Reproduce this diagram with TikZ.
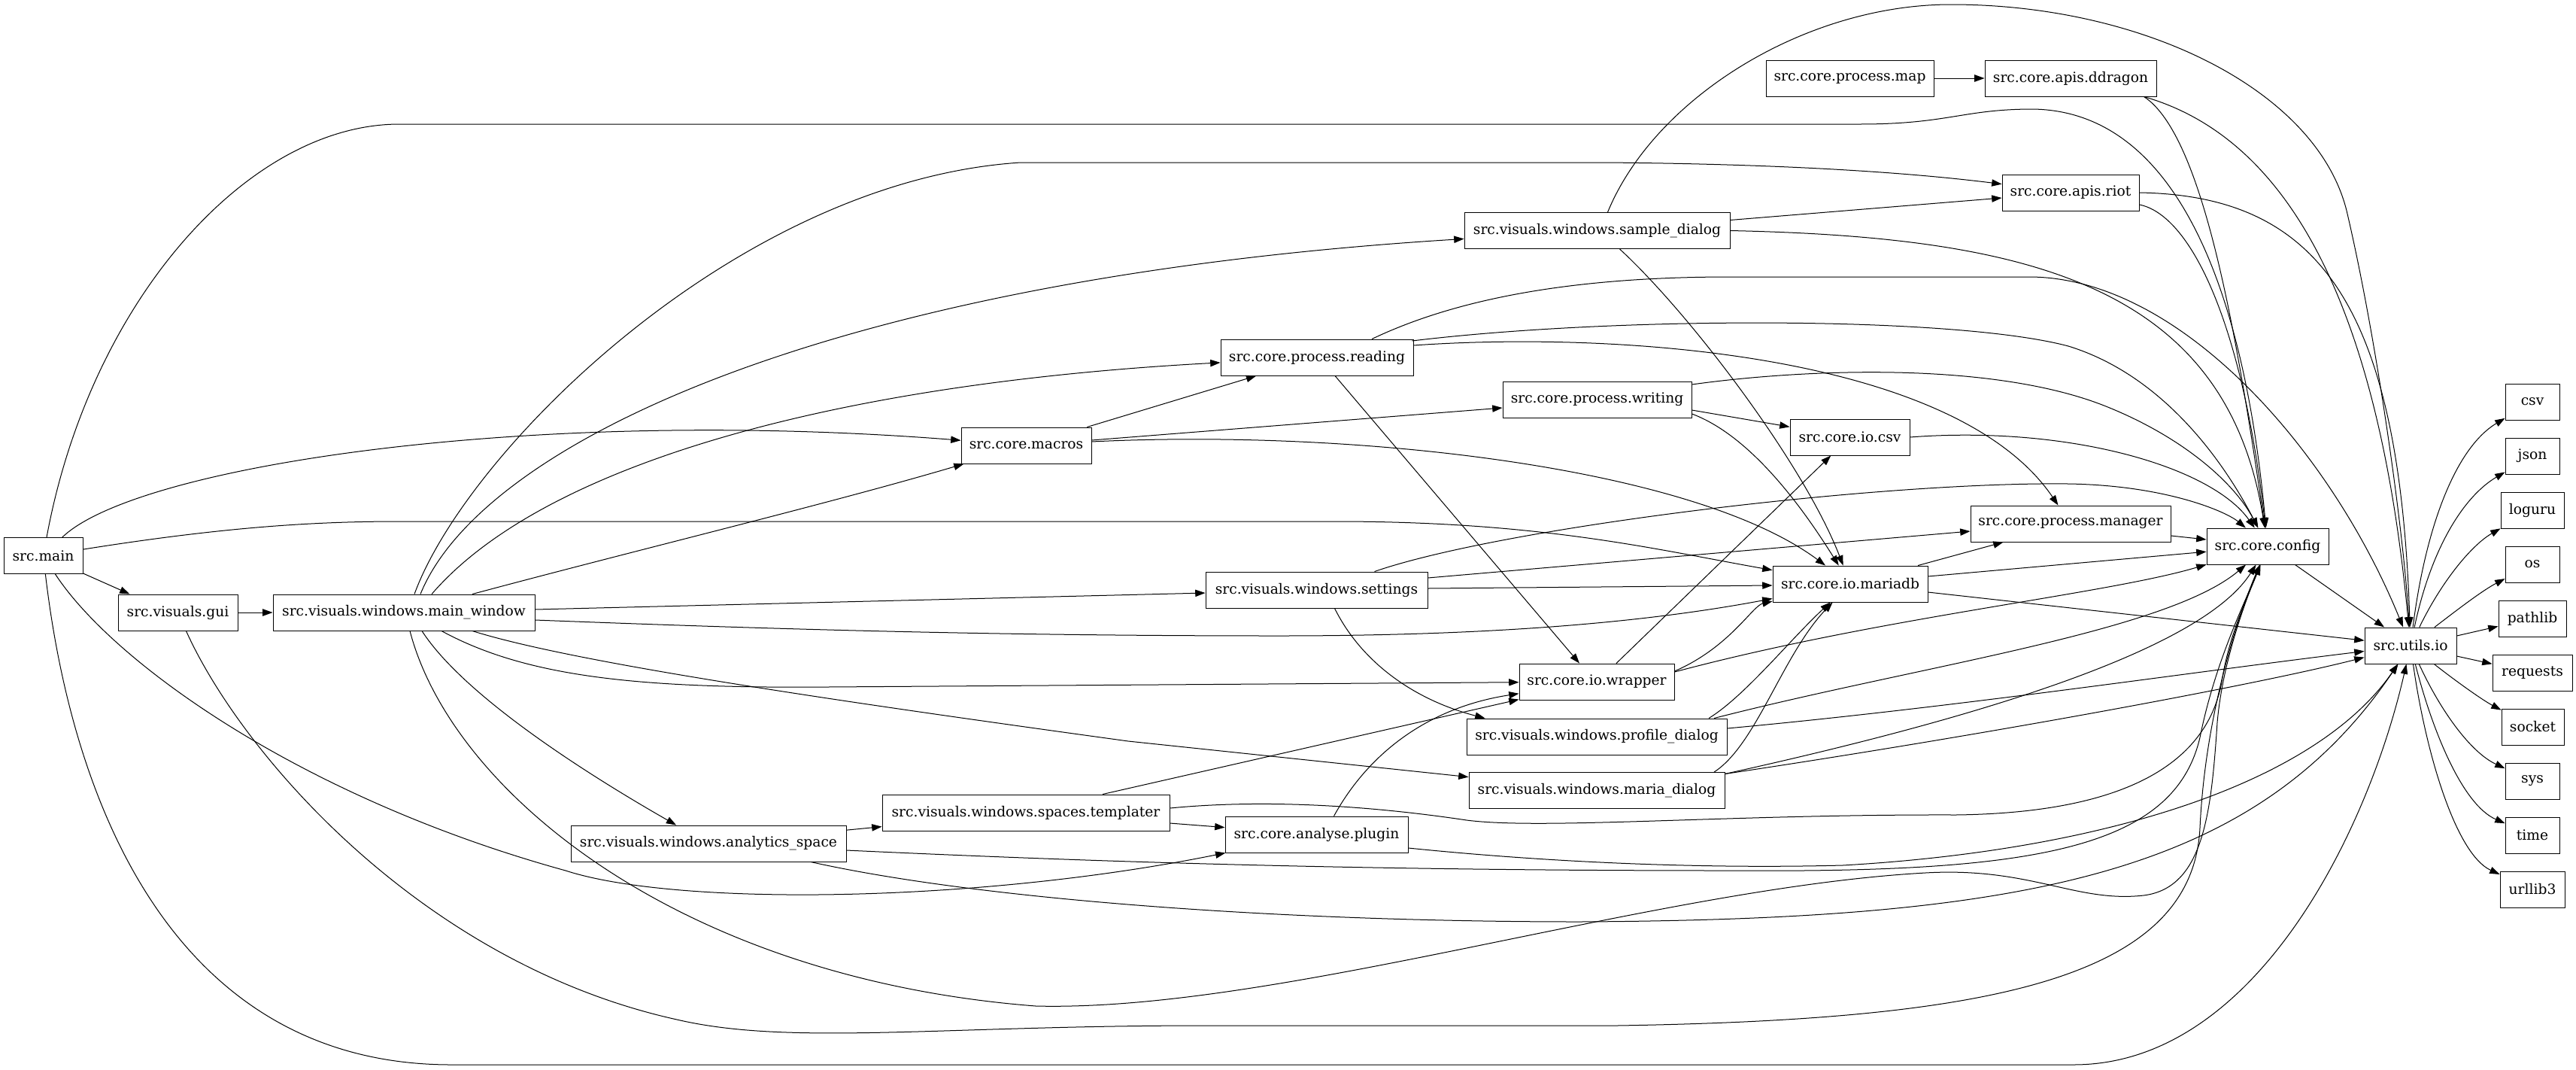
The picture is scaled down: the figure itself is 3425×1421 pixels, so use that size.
\documentclass[tikz,border=0pt]{standalone}
\usepackage{fontspec}
\newfontfamily\gfont{DejaVu Serif}
\usetikzlibrary{arrows.meta,calc}
\begin{document}
\begin{tikzpicture}[x=0.75pt,y=-0.75pt,
  nbox/.style={draw,rectangle,line width=0.7pt,minimum height=36pt,inner xsep=1pt,inner ysep=0pt,font=\gfont\fontsize{14pt}{17pt}\selectfont},
  edg/.style={draw,line width=0.75pt,-{Triangle[length=10pt,width=7pt]}}]
\fill[white] (0,0) rectangle (3425,1421);
\useasboundingbox (0,0) rectangle (3425,1421);
% nodes
\node[nbox,minimum width=78.75pt] (main) at (57.5,738.5) {src.main};
\node[nbox,minimum width=119.25pt] (gui) at (236.5,814) {src.visuals.gui};
\node[nbox,minimum width=261pt] (mw) at (537,814) {src.visuals.windows.main\_window};
\node[nbox,minimum width=274.5pt] (analytics) at (942,1121) {src.visuals.windows.analytics\_space};
\node[nbox,minimum width=286.5pt] (templater) at (1364,1080) {src.visuals.windows.spaces.templater};
\node[nbox,minimum width=182.25pt] (plugin) at (1750.5,1109) {src.core.analyse.plugin};
\node[nbox,minimum width=129.75pt] (macros) at (1364.5,592) {src.core.macros};
\node[nbox,minimum width=192pt] (reading) at (1751,475) {src.core.process.reading};
\node[nbox,minimum width=221.25pt] (settings) at (1750.5,784) {src.visuals.windows.settings};
\node[nbox,minimum width=264.75pt] (sample) at (2123.5,306.5) {src.visuals.windows.sample\_dialog};
\node[nbox,minimum width=188.25pt] (writing) at (2123.5,531) {src.core.process.writing};
\node[nbox,minimum width=154.5pt] (wrapper) at (2123,906) {src.core.io.wrapper};
\node[nbox,minimum width=259.5pt] (profile) at (2123,979) {src.visuals.windows.profile\_dialog};
\node[nbox,minimum width=255pt] (mariadlg) at (2123,1050.5) {src.visuals.windows.maria\_dialog};
\node[nbox,minimum width=119.25pt] (iocsv) at (2459.5,581) {src.core.io.csv};
\node[nbox,minimum width=154.5pt] (mariadb) at (2460,776) {src.core.io.mariadb};
\node[nbox,minimum width=167.25pt] (map) at (2459.5,104) {src.core.process.map};
\node[nbox,minimum width=171pt] (ddragon) at (2753,104) {src.core.apis.ddragon};
\node[nbox,minimum width=136.5pt] (riot) at (2753,256) {src.core.apis.riot};
\node[nbox,minimum width=199.5pt] (manager) at (2753,696) {src.core.process.manager};
\node[nbox,minimum width=121.5pt] (config) at (3015,726) {src.core.config};
\node[nbox,minimum width=91.5pt] (utils) at (3205,858) {src.utils.io};
\node[nbox,minimum width=54pt] (csv) at (3367,534) {csv};
\node[nbox,minimum width=54pt] (json) at (3367,606) {json};
\node[nbox,minimum width=63pt] (loguru) at (3367,678) {loguru};
\node[nbox,minimum width=54pt] (os) at (3367,750) {os};
\node[nbox,minimum width=67.5pt] (pathlib) at (3367,822) {pathlib};
\node[nbox,minimum width=79.5pt] (requests) at (3367,894) {requests};
\node[nbox,minimum width=62.25pt] (socket) at (3367.5,966) {socket};
\node[nbox,minimum width=54pt] (sys) at (3367,1038) {sys};
\node[nbox,minimum width=54pt] (time) at (3367,1110) {time};
\node[nbox,minimum width=64.5pt] (urllib3) at (3367,1182) {urllib3};
% edges from src.main
\draw[edg] (main) -- ($(gui.north west)+(16,0)$);
\draw[edg] (main) .. controls (120,400) and (330,165) .. (531,165) -- (2473,165) .. controls (2590,165) and (2610,145) .. (2703,145) .. controls (2900,148) and (2985,400) .. (config);
\draw[edg] (main) .. controls (180,620) and (700,540) .. (macros);
\draw[edg] (main) .. controls (300,700) and (420,693) .. (531,693) -- (1775,693) .. controls (2050,693) and (2200,730) .. (mariadb);
\draw[edg] (main) .. controls (150,880) and (400,1060) .. (752,1157) .. controls (900,1205) and (1300,1200) .. (plugin);
\draw[edg] (main) .. controls (100,1100) and (250,1415) .. (600,1415) -- (2757,1415) .. controls (3000,1415) and (3150,1100) .. (utils);
% gui
\draw[edg] (gui) -- (mw);
\draw[edg] (gui) .. controls (320,1000) and (560,1280) .. (900,1355) .. controls (1050,1390) and (1250,1363) .. (1600,1363) -- (2150,1363) .. controls (2650,1355) and (2915,1300) .. (2925,1100) .. controls (2932,950) and (2975,820) .. (config);
% main_window
\draw[edg] ($(mw.north)+(22,0)$) .. controls (640,590) and (1100,370) .. (sample);
\draw[edg] ($(mw.north)+(14,0)$) .. controls (620,600) and (980,240) .. (1357,216) -- (2131,216) .. controls (2400,218) and (2560,232) .. (riot);
\draw[edg] ($(mw.north)+(37,0)$) .. controls (720,620) and (1100,510) .. (reading);
\draw[edg] ($(mw.north)+(91,0)$) .. controls (850,730) and (1100,670) .. (macros);
\draw[edg] ($(mw.east)+(0,-4)$) -- ($(settings.west)+(0,4)$);
\draw[edg] ($(mw.east)+(0,10)$) .. controls (1000,835) and (1300,845) .. (1700,845) .. controls (2000,845) and (2200,825) .. (mariadb);
\draw[edg] ($(mw.south)+(50,0)$) .. controls (700,900) and (850,915) .. (1100,913) -- (wrapper);
\draw[edg] ($(mw.south)+(91,0)$) .. controls (760,880) and (1100,930) .. (1500,985) -- (mariadlg);
\draw[edg] ($(mw.south)+(24,0)$) .. controls (620,930) and (800,1040) .. (analytics);
\draw[edg] ($(mw.south)+(8,0)$) .. controls (600,1050) and (900,1300) .. (1377,1337) .. controls (1700,1345) and (2200,1180) .. (2560,1160) .. controls (2700,1152) and (2760,1200) .. (2850,1190) .. controls (2930,1180) and (2940,1080) .. (2948,960) .. controls (2955,880) and (2985,800) .. (config);
% analytics_space
\draw[edg] (analytics) -- (templater);
\draw[edg] ($(analytics.east)+(0,9)$) .. controls (1450,1145) and (1800,1157) .. (2300,1157) .. controls (2700,1160) and (2890,1130) .. (2925,980) .. controls (2945,880) and (2985,800) .. (config);
\draw[edg] ($(analytics.south)+(136,0)$) .. controls (1300,1195) and (1700,1225) .. (2100,1225) .. controls (2700,1222) and (3000,1160) .. (utils);
% templater
\draw[edg] ($(templater.east)+(0,14)$) -- (plugin);
\draw[edg] ($(templater.north)+(102,0)$) -- (wrapper);
\draw[edg] ($(templater.east)+(0,-6)$) .. controls (1700,1060) and (1850,1075) .. (1950,1090) .. controls (2050,1103) and (2300,1082) .. (2600,1083) .. controls (2850,1080) and (2940,1000) .. (2955,900) .. controls (2965,840) and (2990,790) .. (config);
% plugin
\draw[edg] ($(plugin.north)+(23,0)$) .. controls (1820,1000) and (1900,940) .. (wrapper);
\draw[edg] ($(plugin.east)+(0,18)$) .. controls (2050,1145) and (2250,1155) .. (2450,1150) .. controls (2800,1130) and (3080,1040) .. (utils);
% macros
\draw[edg] (macros) -- (reading);
\draw[edg] ($(macros.east)+(0,-7)$) -- ($(writing.west)+(0,11)$);
\draw[edg] ($(macros.east)+(0,-5)$) .. controls (1800,570) and (2250,620) .. (mariadb);
% reading
\draw[edg] ($(reading.north)+(73,0)$) .. controls (1930,400) and (2080,368) .. (2300,368) -- (2700,368) .. controls (2900,370) and (3100,600) .. (utils);
\draw[edg] ($(reading.east)+(-2,-22)$) .. controls (2150,420) and (2600,420) .. (2750,460) .. controls (2880,500) and (2960,620) .. (config);
\draw[edg] ($(reading.east)+(0,-16)$) .. controls (2150,440) and (2600,470) .. (manager);
\draw[edg] ($(reading.south)+(24,0)$) -- ($(wrapper.north)+(-23,0)$);
% sample_dialog
\draw[edg] ($(sample.east)+(0,-14)$) -- ($(riot.west)+(0,7)$);
\draw[edg] (sample.east) .. controls (2700,315) and (2960,380) .. (config);
\draw[edg] ($(sample.north)+(14,0)$) .. controls (2200,130) and (2400,6) .. (2594,6) .. controls (2850,6) and (3080,120) .. (3120,280) .. controls (3160,450) and (3195,700) .. (utils);
\draw[edg] ($(sample.south)+(30,0)$) .. controls (2250,420) and (2400,620) .. (mariadb);
% writing
\draw[edg] ($(writing.east)+(0,14)$) -- (iocsv);
\draw[edg] ($(writing.east)+(0,19)$) .. controls (2330,580) and (2400,680) .. (mariadb);
\draw[edg] ($(writing.east)+(0,-20)$) .. controls (2400,490) and (2650,480) .. (2800,540) .. controls (2900,580) and (2970,640) .. (config);
% settings
\draw[edg] ($(settings.north)+(77,0)$) .. controls (2000,700) and (2500,640) .. (2750,643) .. controls (2880,645) and (2960,680) .. (config);
\draw[edg] ($(settings.east)+(0,-16)$) -- ($(manager.west)+(0,10)$);
\draw[edg] ($(settings.east)+(0,-2)$) -- ($(mariadb.west)+(0,2)$);
\draw[edg] ($(settings.south)+(24,0)$) .. controls (1810,880) and (1880,930) .. ($(profile.north west)+(25,0)$);
% wrapper
\draw[edg] ($(wrapper.north)+(26,0)$) -- (iocsv);
\draw[edg] ($(wrapper.east)+(0,-14)$) .. controls (2300,860) and (2330,805) .. (mariadb);
\draw[edg] ($(wrapper.east)+(0,-13)$) .. controls (2500,820) and (2800,790) .. (config);
% profile_dialog
\draw[edg] ($(profile.north)+(149,0)$) .. controls (2320,925) and (2380,850) .. (mariadb);
\draw[edg] ($(profile.north)+(156,0)$) .. controls (2550,885) and (2880,840) .. (config);
\draw[edg] ($(profile.east)+(0,-11)$) .. controls (2600,940) and (2900,895) .. (utils);
% maria_dialog
\draw[edg] ($(mariadlg.north)+(156,0)$) .. controls (2335,990) and (2370,870) .. (mariadb);
\draw[edg] ($(mariadlg.east)+(0,-22)$) .. controls (2650,950) and (2930,860) .. (config);
\draw[edg] ($(mariadlg.east)+(0,-22)$) .. controls (2650,975) and (3000,910) .. (utils);
% io.csv, mariadb, manager
\draw[edg] (iocsv.east) .. controls (2750,565) and (2940,620) .. (config);
\draw[edg] ($(mariadb.north)+(90,0)$) -- (manager);
\draw[edg] ($(mariadb.east)+(0,-10)$) -- (config);
\draw[edg] ($(mariadb.east)+(0,11)$) -- (utils);
\draw[edg] ($(manager.east)+(0,16)$) -- ($(config.west)+(0,-9)$);
% apis
\draw[edg] (map) -- (ddragon);
\draw[edg] ($(ddragon.south east)+(-17,0)$) .. controls (2930,180) and (2975,450) .. (config);
\draw[edg] ($(ddragon.south east)+(-17,0)$) .. controls (3030,180) and (3160,380) .. (utils);
\draw[edg] ($(riot.east)+(0,16)$) .. controls (2910,285) and (2980,420) .. (config);
\draw[edg] (riot.east) .. controls (3080,260) and (3190,400) .. (utils);
% config
\draw[edg] ($(config.south east)+(-45,0)$) -- (utils);
% utils.io to leaves
\draw[edg] (utils) .. controls (3225,700) and (3265,595) .. (csv);
\draw[edg] (utils) .. controls (3232,730) and (3275,660) .. (json);
\draw[edg] (utils) .. controls (3245,775) and (3285,725) .. (loguru);
\draw[edg] (utils) .. controls (3265,812) and (3300,785) .. (os);
\draw[edg] ($(utils.east)+(0,-13)$) -- (pathlib);
\draw[edg] ($(utils.east)+(0,14)$) -- (requests);
\draw[edg] (utils) .. controls (3265,905) and (3300,930) .. (socket);
\draw[edg] (utils) .. controls (3245,945) and (3285,1000) .. (sys);
\draw[edg] (utils) .. controls (3235,975) and (3275,1070) .. (time);
\draw[edg] (utils) .. controls (3225,1000) and (3265,1135) .. (urllib3);
\end{tikzpicture}
\end{document}
